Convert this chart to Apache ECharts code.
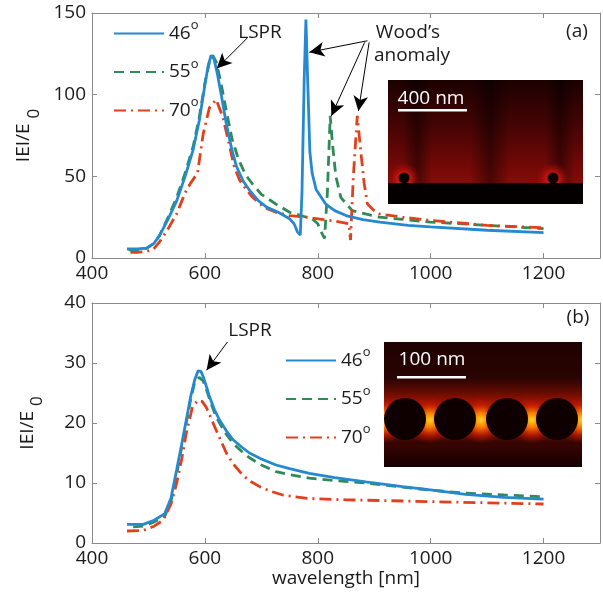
<!DOCTYPE html>
<html><head><meta charset="utf-8">
<script src="https://cdn.jsdelivr.net/npm/echarts@6/dist/echarts.min.js"></script>
<style>html,body{margin:0;padding:0;background:#fff}#c{width:603px;height:594px}</style>
</head><body><div id="c"></div>
<script>
// ---------- data ----------
const xTicks = [400, 600, 800, 1000, 1200];
const xRange = [400, 1300];
const yTicksTop = [0, 50, 100, 150];
const yTicksBot = [0, 10, 20, 30, 40];
const angleNames = ['46', '55', '70'];

// panel (a): wavelength [nm], |E|/E0
const a46 = [[462,5.5],[480,5.5],[497,6],[510,9],[520,14],[535,24],[550,35],[565,50],[579,66],[590,84],[600,106],[606,118],[611,124],[616,122],[622,113],[630,98],[638,82],[648,66],[656,56],[668,47],[680,41],[695,35],[710,31],[730,28],[750,24],[758,21],[764,16],[769,14],[772,40],[776,110],[779,146],[782,110],[786,65],[790,52],[797,42],[814,33],[830,29],[850,26],[880,23.5],[910,22],[960,20],[1000,19],[1100,17],[1200,15.5]];
const a55 = [[465,5],[480,5],[497,6],[510,9],[520,14],[535,25],[550,37],[565,52],[579,68],[590,86],[600,107],[608,120],[614,124],[620,120],[628,108],[638,90],[648,73],[660,60],[672,51],[685,45],[700,39],[726,33],[750,28],[770,26],[790,24],[800,21],[806,16],[812,12],[817,40],[822,87],[826,70],[832,50],[841,37],[861,29],[909,25],[1000,22],[1100,20],[1200,18]];
const a70 = [[468,3.5],[480,3.5],[495,4],[508,5],[520,10],[535,18],[550,27],[565,40],[575,46],[587,52],[597,76],[608,92],[620,97],[632,86],[644,68],[652,56],[661,48],[673,42],[685,37],[705,31],[726,28],[750,26],[780,25],[810,23.5],[840,22],[855,21],[858,11],[863,50],[870,87],[876,66],[882,46],[888,33],[900,29],[909,27],[950,25],[1000,23],[1100,20],[1200,18.5]];

// panel (b)
const b46 = [[462,3.1],[491,3.1],[510,3.8],[529,4.9],[540,7.5],[550,12.2],[560,17],[567,20.5],[575,24.5],[582,27.2],[588,28.7],[593,28.6],[597,27.7],[603,26],[608,24.4],[617,22.2],[626,20.5],[638,18.7],[650,17.2],[665,16],[679,15],[700,14],[726,13],[750,12.4],[785,11.6],[830,10.9],[885,10.2],[950,9.4],[1003,8.8],[1062,8.1],[1130,7.6],[1200,7.3]];
const b55 = [[473,2.7],[491,2.8],[510,3.5],[529,4.5],[540,7],[550,11.5],[560,16.5],[567,20],[575,24],[582,26.8],[590,27.6],[597,27],[603,25.5],[610,23.5],[620,21],[635,18.5],[650,16.6],[665,15.3],[679,14.2],[700,13],[726,11.9],[750,11.4],[785,10.8],[830,10.4],[885,10],[950,9.3],[1003,8.8],[1062,8.3],[1130,8],[1200,7.7]];
const b70 = [[462,2],[491,2.1],[510,2.8],[526,3.8],[540,6.5],[550,10],[560,14.5],[567,18.3],[578,22.7],[588,23.8],[595,23.6],[602,22.7],[610,21],[620,18.8],[630,16.7],[638,15],[650,13.2],[667,11.3],[682,10.2],[697,9.4],[717,8.6],[738,8],[760,7.7],[785,7.4],[850,7.2],[1000,6.9],[1100,6.7],[1200,6.5]];

// annotation arrows (data coords): [from, to]
const arrowsA = [[[676,135],[621,116]], [[888,133],[785,126]], [[883,132],[824,87]], [[891,132],[872,90]]];
const arrowsB = [[[640,33.5],[603,28.8]]];

// ---------- styling ----------
const FONT = "'Open Sans', sans-serif";
const AX = '#8a8a8a';
const COLORS = ['#2589d0', '#2e8b57', '#e2401c'];
const DASH = ['solid', [10, 6], [12, 5, 2, 5]];

function xAxisDef(gi, pos, showLabel, name) {
  return {
    gridIndex: gi, type: 'value', position: pos,
    min: xRange[0], max: xRange[1], interval: xTicks[1] - xTicks[0],
    axisLine: {show: true, onZero: false, lineStyle: {color: AX, width: 1}},
    axisTick: {show: true, inside: true, length: 5, lineStyle: {color: AX}},
    axisLabel: {show: showLabel, fontSize: 19, color: '#1a1a1a', fontFamily: FONT, margin: 6,
      formatter: v => xTicks.includes(v) ? String(v) : ''},
    splitLine: {show: false},
    name: name || '', nameLocation: 'middle', nameGap: 26,
    nameTextStyle: {fontSize: 19, color: '#1a1a1a', fontFamily: FONT}
  };
}
function yAxisDef(gi, pos, ticks, showLabel, withName) {
  return {
    gridIndex: gi, type: 'value', position: pos,
    min: ticks[0], max: ticks[ticks.length - 1], interval: ticks[1] - ticks[0],
    axisLine: {show: true, onZero: false, lineStyle: {color: AX, width: 1}},
    axisTick: {show: true, inside: true, length: 5, lineStyle: {color: AX}},
    axisLabel: {show: showLabel, fontSize: 19, color: '#1a1a1a', fontFamily: FONT, margin: 6},
    splitLine: {show: false},
    name: withName ? 'IEI/E {s|0}' : '', nameLocation: 'middle', nameGap: 46, nameRotate: 90,
    nameTextStyle: {fontSize: 19, color: '#1a1a1a', fontFamily: FONT,
      rich: {s: {fontSize: 17, fontFamily: FONT, color: '#1a1a1a', padding: [20, 0, 0, 0]}}}
  };
}
function markArrows(list) {
  return {
    silent: true, animation: false, symbol: ['none', 'arrow'], symbolSize: [11, 15],
    label: {show: false},
    lineStyle: {color: '#000', width: 1, type: 'solid'},
    emphasis: {disabled: true},
    data: list.map(a => [{coord: a[0]}, {coord: a[1]}])
  };
}
function lineSeries(idx, data, gi, marks) {
  const s = {
    type: 'line', name: angleNames[idx], data: data,
    xAxisIndex: gi * 2, yAxisIndex: gi * 2,
    symbol: 'none', smooth: false, animation: false,
    lineStyle: {color: COLORS[idx], width: 2.8, type: DASH[idx]},
    itemStyle: {color: COLORS[idx]},
    emphasis: {disabled: true}, z: 3 + (idx === 0 ? 1 : 0)
  };
  if (marks) s.markLine = markArrows(marks);
  return s;
}
function legendDef(top, left) {
  return {
    top: top, left: left, orient: 'vertical', itemWidth: 50, itemHeight: 14, itemGap: 13,
    selectedMode: false, data: angleNames, formatter: n => n + '{s|o}',
    itemStyle: {opacity: 0, borderWidth: 0},
    textStyle: {fontSize: 19, color: '#1a1a1a', fontFamily: FONT, lineHeight: 22,
      rich: {s: {fontSize: 13, fontFamily: FONT, color: '#1a1a1a', padding: [0, 0, 16, 0]}}}
  };
}
function txt(x, y, s, extra) {
  return Object.assign({type: 'text', x: x, y: y, z: 50,
    style: {text: s, fontSize: 19, fontFamily: FONT, fill: '#1a1a1a', textAlign: 'center', textVerticalAlign: 'middle'}}, extra || {});
}

// ---------- insets (pictures) ----------
function insetA() {
  const x0 = 388, y0 = 80, w = 195, h = 124, sub = 183;
  const el = [];
  el.push({type: 'rect', shape: {x: x0, y: y0, width: w, height: sub - y0},
    style: {fill: {type: 'linear', x: 0, y: 0, x2: 0, y2: 1, colorStops: [
      {offset: 0, color: '#1c0101'}, {offset: 0.45, color: '#460404'}, {offset: 1, color: '#860b08'}]}}});
  [[417, 30], [490, 40], [560, 30]].forEach(b => {
    el.push({type: 'rect', shape: {x: b[0] - b[1] / 2, y: y0, width: b[1], height: sub - y0},
      style: {fill: {type: 'linear', x: 0, y: 0, x2: 1, y2: 0, colorStops: [
        {offset: 0, color: 'rgba(0,0,0,0)'}, {offset: 0.5, color: 'rgba(0,0,0,0.45)'}, {offset: 1, color: 'rgba(0,0,0,0)'}]}}});
  });
  [404, 553].forEach(cx => {
    el.push({type: 'rect', shape: {x: cx - 16, y: sub - 22, width: 32, height: 22},
      style: {fill: {type: 'radial', x: 0.5, y: 0.82, r: 0.75, colorStops: [
        {offset: 0, color: 'rgba(255,50,30,1)'}, {offset: 0.45, color: 'rgba(220,20,15,0.7)'}, {offset: 1, color: 'rgba(160,10,8,0)'}]}}});
  });
  el.push({type: 'rect', shape: {x: x0, y: sub, width: w, height: y0 + h - sub}, style: {fill: '#050000'}});
  [404, 553].forEach(cx => el.push({type: 'circle', shape: {cx: cx, cy: 178, r: 5.5}, style: {fill: '#0a0000'}}));
  el.push(txt(431, 99, '400 nm', {style: {text: '400 nm', fontSize: 19, fontFamily: FONT, fill: '#fff', textAlign: 'center', textVerticalAlign: 'middle'}}));
  el.push({type: 'rect', shape: {x: 398, y: 109, width: 69, height: 2.5}, style: {fill: '#fff'}});
  return el;
}
function insetB() {
  const x0 = 384, y0 = 342, w = 198, h = 125;
  const el = [];
  el.push({type: 'rect', shape: {x: x0, y: y0, width: w, height: h},
    style: {fill: {type: 'linear', x: 0, y: 0, x2: 0, y2: 1, colorStops: [
      {offset: 0, color: '#1e0201'}, {offset: 0.3, color: '#2a0402'}, {offset: 0.8, color: '#1a0201'}, {offset: 1, color: '#140101'}]}}});
  el.push({type: 'rect', shape: {x: x0, y: 378, width: w, height: 70},
    style: {fill: {type: 'linear', x: 0, y: 0, x2: 0, y2: 1, colorStops: [
      {offset: 0, color: 'rgba(150,15,0,0)'}, {offset: 0.35, color: 'rgba(190,25,0,0.8)'},
      {offset: 0.7, color: 'rgba(210,40,0,0.85)'}, {offset: 1, color: 'rgba(120,10,0,0)'}]}}});
  const gaps = [[384, 0], [430, 0.5], [481, 0.5], [532, 0.5], [582, 1]];
  gaps.forEach(g => {
    const left = g[1] === 0 ? x0 : g[0] - 24;
    const width = g[1] === 0.5 ? 48 : 24;
    el.push({type: 'rect', shape: {x: left, y: 396, width: width, height: 48},
      style: {fill: {type: 'radial', x: g[1], y: 0.5, r: g[1] === 0.5 ? 0.5 : 1, colorStops: [
        {offset: 0, color: 'rgba(255,215,40,1)'}, {offset: 0.3, color: 'rgba(255,130,0,0.95)'},
        {offset: 0.65, color: 'rgba(210,30,0,0.6)'}, {offset: 1, color: 'rgba(150,10,0,0)'}]}}});
  });
  [405, 455, 507, 557].forEach(cx => el.push({type: 'circle', shape: {cx: cx, cy: 419, r: 21}, style: {fill: '#0e0000'}}));
  el.push({type: 'rect', shape: {x: x0, y: 444, width: w, height: y0 + h - 444},
    style: {fill: {type: 'linear', x: 0, y: 0, x2: 0, y2: 1, colorStops: [
      {offset: 0, color: 'rgba(60,4,2,0.9)'}, {offset: 1, color: 'rgba(20,1,1,1)'}]}}});
  el.push(txt(432, 360, '100 nm', {style: {text: '100 nm', fontSize: 19, fontFamily: FONT, fill: '#fff', textAlign: 'center', textVerticalAlign: 'middle'}}));
  el.push({type: 'rect', shape: {x: 397, y: 376, width: 69, height: 2.5}, style: {fill: '#fff'}});
  return el;
}

const chart = echarts.init(document.getElementById('c'), null, {renderer: 'canvas'});
chart.setOption({
  animation: false,
  backgroundColor: '#fff',
  grid: [
    {left: 92, top: 13, width: 509, height: 245},
    {left: 92, top: 303, width: 509, height: 240}
  ],
  xAxis: [xAxisDef(0, 'bottom', true), xAxisDef(0, 'top', false), xAxisDef(1, 'bottom', true, 'wavelength [nm]'), xAxisDef(1, 'top', false)],
  yAxis: [yAxisDef(0, 'left', yTicksTop, true, true), yAxisDef(0, 'right', yTicksTop, false, false),
          yAxisDef(1, 'left', yTicksBot, true, true), yAxisDef(1, 'right', yTicksBot, false, false)],
  legend: [legendDef(14, 108), legendDef(341, 280)],
  series: [
    lineSeries(1, a55, 0), lineSeries(2, a70, 0), lineSeries(0, a46, 0, arrowsA),
    lineSeries(1, b55, 1), lineSeries(2, b70, 1), lineSeries(0, b46, 1, arrowsB)
  ],
  graphic: [
    {type: 'group', z: 40, children: insetA()},
    {type: 'group', z: 40, children: insetB()},
    txt(260, 33, 'LSPR'), txt(408, 33, "Wood’s"), txt(412, 56, 'anomaly'), txt(577, 32, '(a)'),
    txt(250, 331, 'LSPR'), txt(578, 318, '(b)')
  ]
});
</script></body></html>
